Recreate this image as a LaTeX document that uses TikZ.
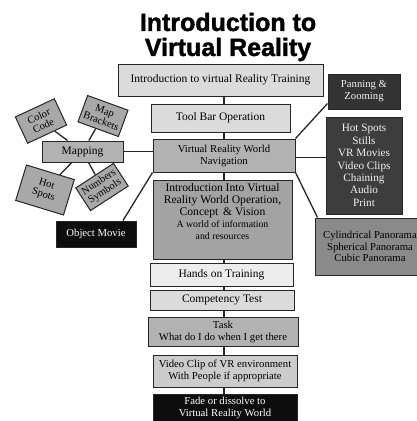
\documentclass[tikz,border=0pt]{standalone}
\usepackage{fontspec}
\setmainfont{Liberation Serif}
\newfontfamily\titlefont[BoldFeatures={FakeBold=1.6}]{Liberation Sans}
\usetikzlibrary{calc}
\newcommand\bigline{\fontsize{11.6}{12.4}\selectfont}
\newcommand\noteline{\fontsize{9.8}{10.6}\selectfont}
\tikzset{
  % node styles
  box/.style={draw=black!85, line width=1pt, align=center, inner sep=1pt, font=\fontsize{10.7}{12}\selectfont},
  widebox/.style={font=\fontsize{11.5}{12.5}\selectfont},
  palebox/.style={box, fill=black!7},
  lightbox/.style={box, fill=black!14},
  midbox/.style={box, fill=black!30},
  greybox/.style={box, fill=black!46},
  darkbox/.style={box, fill=black!80, text=black!5},
  blackbox/.style={box, fill=black!95, text=white},
  tag/.style={box, fill=black!34, inner sep=2pt, font=\fontsize{10.5}{10.8}\selectfont},
  % edge styles
  link/.style={draw=black!85, line width=1.3pt},
}
\begin{document}
\begin{tikzpicture}[x=1pt, y=-1pt]
  \useasboundingbox (0,0) rectangle (417,421);
  \clip (0,0) rectangle (417,421);
  % title
  \node(title)[align=center, inner sep=0pt, font=\titlefont\bfseries\fontsize{25}{25}\selectfont] at (228,37) {Introduction to\\Virtual Reality};
  % main column
  \node(intro)[lightbox, widebox, minimum width=205pt, minimum height=32pt] at (220.5,80) {Introduction to virtual Reality Training};
  \node(toolbar)[lightbox, widebox, minimum width=139pt, minimum height=28pt] at (220.5,118) {Tool Bar Operation};
  \node(nav)[midbox, minimum width=142pt, minimum height=33pt] at (224,155.5) {Virtual Reality World\\Navigation};
  \node(vision)[midbox, fill=black!36, minimum width=139pt, minimum height=79pt] at (222.5,219.5) {\bigline Introduction Into Virtual\\\bigline Reality World Operation,\\\bigline Concept \,\& Vision\\\noteline A world of information\\\noteline and resources\\[5pt]};
  \node(hands)[palebox, widebox, minimum width=143pt, minimum height=23pt] at (221.5,274.5) {Hands on Training};
  \node(test)[lightbox, widebox, minimum width=144pt, minimum height=20pt] at (222,300) {Competency Test};
  \node(task)[midbox, minimum width=150pt, minimum height=29pt] at (223,331.5) {Task\\What do I do when I get there};
  \node(clip)[box, fill=black!20, minimum width=144pt, minimum height=32pt] at (225,371) {Video Clip of VR environment\\With People if appropriate};
  \node(fade)[blackbox, minimum width=144pt, minimum height=28pt] at (225,408) {Fade or dissolve to\\Virtual Reality World};
  % right side
  \node(zoom)[darkbox, minimum width=72pt, minimum height=35pt] at (364,91.5) {Panning \&\\Zooming};
  \node(media)[darkbox, fill=black!76, minimum width=76pt, minimum height=97pt, font=\fontsize{11.2}{12.4}\selectfont] at (364,165.5) {Hot Spots\\Stills\\VR Movies\\Video Clips\\Chaining\\Audio\\Print};
  \node(pano)[greybox, minimum width=110pt, minimum height=57pt, font=\fontsize{10.7}{11.8}\selectfont] at (370,246.5) {Cylindrical Panorama\\Spherical Panorama\\Cubic Panorama};
  % left side
  \node(mapping)[midbox, widebox, minimum width=81pt, minimum height=21pt] at (82.5,151.5) {Mapping};
  \node(color)[tag, rotate=25, minimum width=43pt, minimum height=29pt] at (41,121) {Color\\Code};
  \node(brackets)[tag, rotate=-20, minimum width=43pt, minimum height=28pt] at (103,116) {Map\\Brackets};
  \node(spots)[tag, rotate=-17, minimum width=50pt, minimum height=37pt] at (45,190) {Hot\\Spots};
  \node(symbols)[tag, rotate=33, minimum width=45pt, minimum height=27pt] at (102,187) {Numbers\\Symbols};
  \node(movie)[blackbox, minimum width=80pt, minimum height=26pt] at (96,234) {Object Movie};
  % connectors
  \coordinate(spine) at (224,0);
  \foreach \a/\b in {intro/toolbar, toolbar/nav, nav/vision, vision/hands, hands/test, test/task, task/clip, clip/fade}
    \draw[link] (\a.south -| spine) -- (\b.north -| spine);
  \draw[link] (nav.north east) -- ([yshift=6pt]zoom.south west);
  \draw[link] ([yshift=-2pt]nav.east) -- ([yshift=-2pt]nav.east -| media.west);
  \draw[link] (nav.south east) -- ([xshift=3pt]pano.north west);
  \draw[link] ([yshift=4pt]nav.west -| mapping.east) -- ([yshift=4pt]nav.west);
  \draw[link] (nav.south west) -- ([xshift=27pt]movie.north);
  \foreach \leaf in {color, brackets, spots, symbols}
    \draw[link] (\leaf) -- (mapping);
\end{tikzpicture}
\end{document}
